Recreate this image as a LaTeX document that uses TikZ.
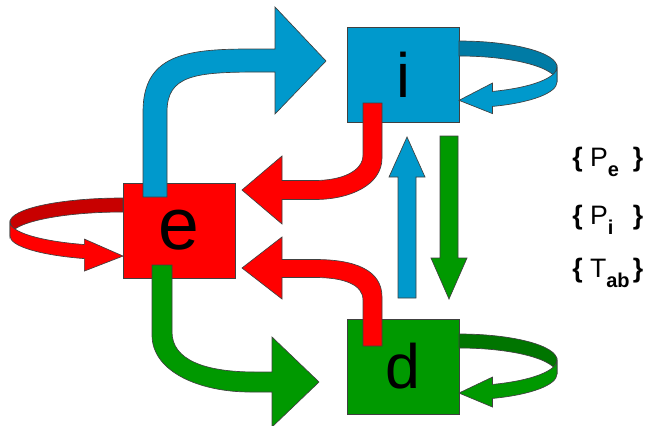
\documentclass[tikz,border=0pt]{standalone}
\usepackage{fontspec}
\setmainfont{Liberation Sans}

\definecolor{iblue}{HTML}{0099CC}
\definecolor{ibluedark}{HTML}{007BA5}
\definecolor{ered}{HTML}{FF0000}
\definecolor{ereddark}{HTML}{C80000}
\definecolor{dgreen}{HTML}{009900}
\definecolor{dgreendark}{HTML}{007500}

\newcommand{\lowsub}[1]{\raisebox{-0.4em}{\fontsize{15}{15}\selectfont\bfseries #1}}

\begin{document}
\begin{tikzpicture}[x=0.75pt, y=-0.75pt,
    outline/.style = {draw=black!75, line width=0.5pt, line join=miter},
    box/.style = {outline, rectangle, minimum width=84pt, minimum height=71.25pt, inner sep=0pt},
    e ring/.style = {x radius=113, y radius=24},
    i ring/.style = {x radius=98, y radius=26},
    set label/.style = {anchor=base west, inner sep=0pt, font=\fontsize{20}{22}\selectfont}
    ]
    \useasboundingbox (0,0) rectangle (657,425);

    % the three states
    \node[box, fill=iblue, font=\fontsize{47}{47}\selectfont] (i) at (403,74.5) {i};
    \node[box, fill=ered, font=\fontsize{55}{55}\selectfont] (e) at (179,230.5) {e};
    \node[box, fill=dgreen, font=\fontsize{47}{47}\selectfont] (d) at (403,366.5) {d};

    % self loops
    \filldraw[outline, fill=ereddark] (123,198) arc[start angle=270, end angle=180, e ring]
        -- ++(0,14) arc[start angle=180, end angle=270, e ring] -- cycle;
    \filldraw[outline, fill=ered] (10,222) arc[start angle=180, end angle=110, e ring]
        -- ++(0,-5.5) -- ++(38.65,17) -- ++(-38.65,15) -- ++(0,-12.45)
        arc[start angle=110, end angle=180, e ring] -- cycle;

    \filldraw[outline, fill=ibluedark] (459,41) arc[start angle=-90, end angle=0, i ring]
        -- ++(0,15) arc[start angle=0, end angle=-90, i ring] -- cycle;
    \filldraw[outline, fill=iblue] (557,67) arc[start angle=0, end angle=70, i ring]
        -- ++(0,-8.4) -- ++(-33.52,17.3) -- ++(33.52,13.3) -- ++(0,-7.2)
        arc[start angle=70, end angle=0, i ring] -- cycle;

    \filldraw[outline, fill=dgreendark] (459,334) arc[start angle=-90, end angle=0, i ring]
        -- ++(0,14) arc[start angle=0, end angle=-90, i ring] -- cycle;
    \filldraw[outline, fill=dgreen] (557,360) arc[start angle=0, end angle=70, i ring]
        -- ++(0,-7.4) -- ++(-33.52,16) -- ++(33.52,14) -- ++(0,-8.6)
        arc[start angle=70, end angle=0, i ring] -- cycle;

    % e to i
    \filldraw[outline, fill=iblue] (143,197) -- (143,112)
        .. controls (143,55) and (185,49) .. (250,49) -- (275,49) -- (275,7)
        -- (326,61) -- (275,114) -- (275,72) -- (260,72)
        .. controls (195,72) and (167,75) .. (167,112) -- (167,197) -- cycle;
    % i to e
    \filldraw[outline, fill=ered] (382,103) -- (382,158)
        .. controls (382,185) and (350,199.5) .. (315,199.5) -- (282,199.5) -- (282,224)
        -- (242,190) -- (282,156) -- (282,180.5) -- (315,180.5)
        .. controls (340,180.5) and (363,172) .. (363,155) -- (363,103) -- cycle;
    % d to e
    \filldraw[outline, fill=ered] (363,346) -- (363,300)
        .. controls (363,285) and (345,277.5) .. (315,277.5) -- (282,277.5) -- (282,299)
        -- (242,268) -- (282,237) -- (282,259.5) -- (315,259.5)
        .. controls (355,259.5) and (382,270) .. (382,297) -- (382,346) -- cycle;
    % e to d
    \filldraw[outline, fill=dgreen] (152,265) -- (152,335)
        .. controls (152,372) and (200,392) .. (250,392) -- (272,392) -- (272,427)
        -- (319,382) -- (272,337) -- (272,372) -- (255,372)
        .. controls (205,372) and (172,360) .. (172,332) -- (172,265) -- cycle;
    % d to i and i to d
    \filldraw[outline, fill=iblue] (398,298) -- (398,177) -- (389,177) -- (407,137)
        -- (425,177) -- (416,177) -- (416,298) -- cycle;
    \filldraw[outline, fill=dgreen] (440,136) -- (440,258) -- (431,258) -- (449,299)
        -- (467,258) -- (458,258) -- (458,136) -- cycle;

    % parameter sets
    \node[set label] (pe) at (572,166) {\makebox[45.5pt][l]{\textbf{\{} P\lowsub{e}}\textbf{\}}};
    \node[set label] (pi) at (572,224) {\makebox[45.5pt][l]{\textbf{\{} P\lowsub{i}}\textbf{\}}};
    \node[set label] (tab) at (572,277) {\makebox[45.5pt][l]{\textbf{\{} T\lowsub{ab}}\textbf{\}}};
\end{tikzpicture}
\end{document}
